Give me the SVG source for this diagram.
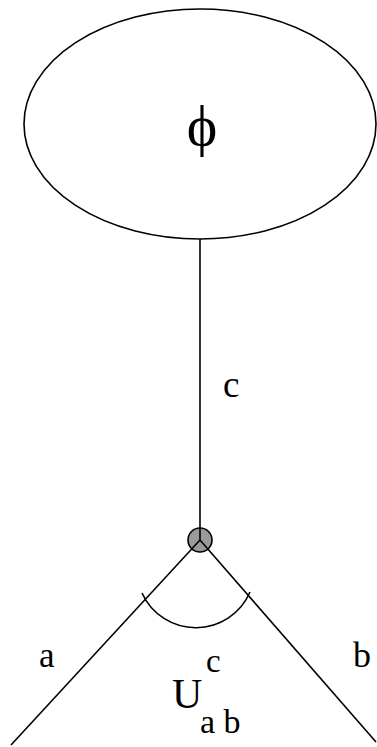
<svg xmlns="http://www.w3.org/2000/svg" width="377" height="747" viewBox="0 0 377 747">
<style>
.s{fill:none;stroke:#000;stroke-width:1.6}
.t{font-family:"Liberation Serif",serif;fill:#000}
</style>
<rect width="377" height="747" fill="#fff"/>
<g id="vertex">
<circle cx="200" cy="540" r="12" fill="#9a9a9a" stroke="#000" stroke-width="1.6"/>
</g>
<g id="connectors">
<line class="s" x1="200" y1="239" x2="200" y2="540"/>
<line class="s" x1="200" y1="540" x2="11" y2="745"/>
<line class="s" x1="200" y1="540" x2="376" y2="742"/>
<path class="s" d="M142,593 A59,59 0 0 0 250,592"/>
</g>
<g id="phi">
<ellipse class="s" cx="200" cy="124" rx="176" ry="115"/>
<text class="t" x="202" y="145" font-size="58" text-anchor="middle">ϕ</text>
</g>
<g id="labels">
<text class="t" x="223" y="397" font-size="37">c</text>
<text class="t" x="39" y="667" font-size="35">a</text>
<text class="t" x="353" y="667" font-size="36">b</text>
<text class="t" x="172" y="708" font-size="42">U</text>
<text class="t" x="206" y="672" font-size="33">c</text>
<text class="t" x="200" y="733" font-size="34">a b</text>
</g>
</svg>
